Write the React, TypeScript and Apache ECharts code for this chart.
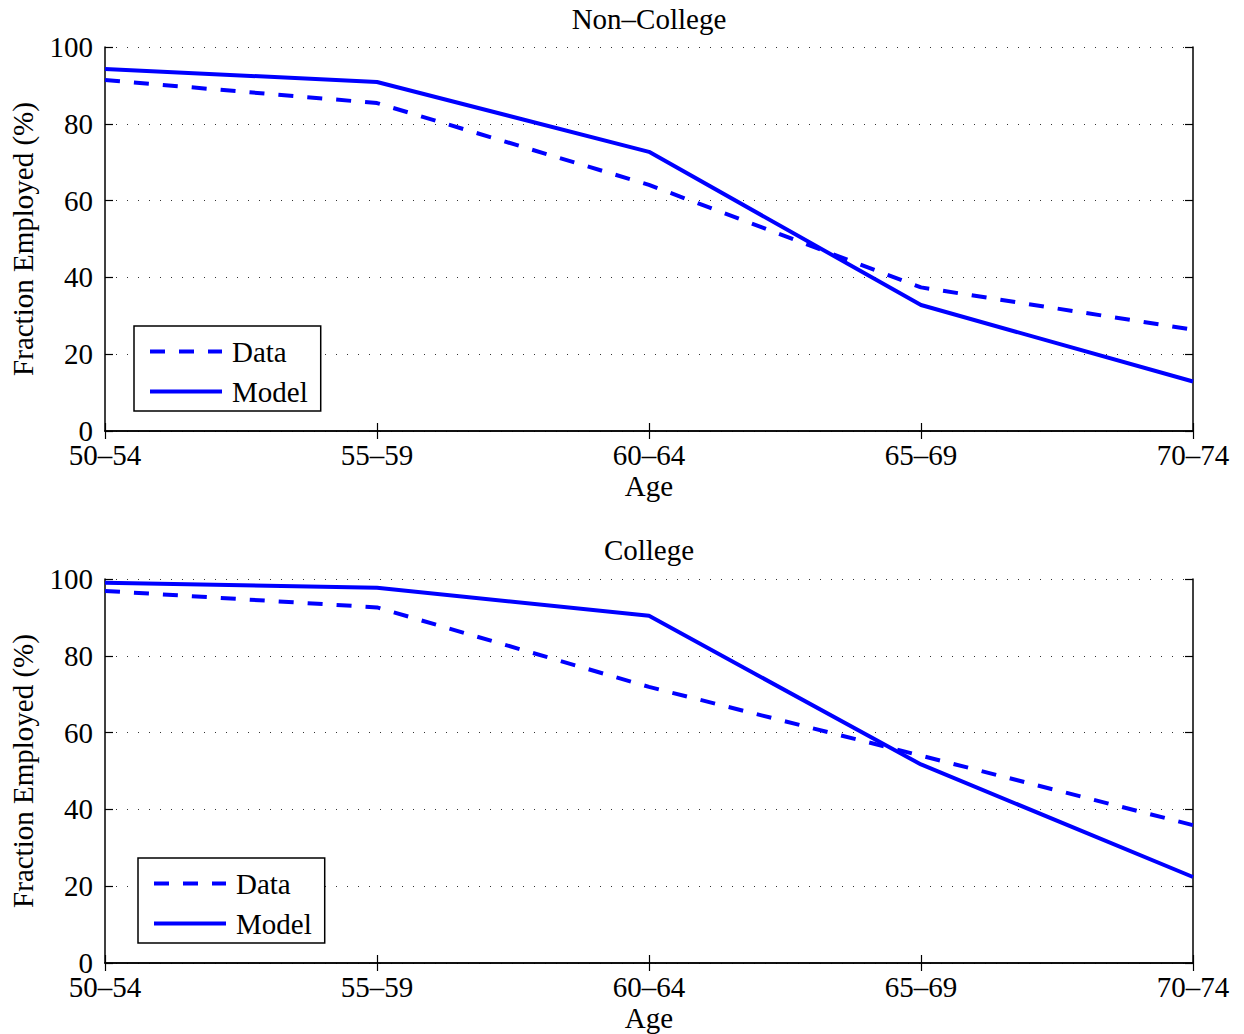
import React, { useEffect, useRef } from "react";
import * as echarts from "echarts";

const categories = ["50–54", "55–59", "60–64", "65–69", "70–74"];
const nonCollegeData = [91.4, 85.4, 64.1, 37.4, 26.4];
const nonCollegeModel = [94.3, 90.9, 72.7, 32.8, 12.9];
const collegeData = [96.9, 92.6, 71.9, 54.0, 35.9];
const collegeModel = [99.0, 97.7, 90.4, 51.7, 22.4];
const yTicks = { min: 0, max: 100, interval: 20 };

const FONT = "Liberation Serif";
const FS = 29;
const BLUE = "#0000ff";

export default function App() {
  const ref = useRef<HTMLDivElement>(null);
  useEffect(() => {
    document.body.style.margin = "0";
    const chart = echarts.init(ref.current!, null, { renderer: "svg" });
    const grids = [
      { left: 105, top: 47, width: 1088, height: 384 },
      { left: 105, top: 579, width: 1088, height: 384 },
    ];
    const titles = ["Non–College", "College"];
    const titleTops = [4, 535];
    const seriesSets = [
      [nonCollegeData, nonCollegeModel],
      [collegeData, collegeModel],
    ];
    const legendPos = [
      { left: 134, top: 326 },
      { left: 138, top: 858 },
    ];
    const xAxis: any[] = [];
    const yAxis: any[] = [];
    const series: any[] = [];
    const title: any[] = [];
    const legend: any[] = [];
    grids.forEach((g, i) => {
      title.push({
        text: titles[i],
        left: g.left + g.width / 2,
        top: titleTops[i],
        textAlign: "center",
        padding: 0,
        textStyle: { fontFamily: FONT, fontSize: FS, fontWeight: "normal", color: "#000", lineHeight: 29 },
      });
      xAxis.push({
        type: "category",
        gridIndex: i,
        data: categories,
        boundaryGap: false,
        position: "bottom",
        name: "Age",
        nameLocation: "middle",
        nameGap: 40,
        nameTextStyle: { fontFamily: FONT, fontSize: FS, color: "#000", lineHeight: 29 },
        axisLine: { lineStyle: { color: "#000", width: 1.5 } },
        axisTick: { inside: true, length: 8, lineStyle: { color: "#000", width: 1.2 } },
        axisLabel: { fontFamily: FONT, fontSize: FS, color: "#000", margin: 15, lineHeight: 18 },
        splitLine: { show: false },
      });
      xAxis.push({
        type: "category",
        gridIndex: i,
        data: categories,
        boundaryGap: false,
        position: "top",
        axisLine: { lineStyle: { color: "#000", width: 1.5 } },
        axisTick: { inside: true, length: 8, lineStyle: { color: "#000", width: 1.2 } },
        axisLabel: { show: false },
        splitLine: { show: false },
      });
      yAxis.push({
        type: "value",
        gridIndex: i,
        position: "left",
        ...yTicks,
        name: "Fraction Employed (%)",
        nameLocation: "middle",
        nameGap: 68,
        nameTextStyle: { fontFamily: FONT, fontSize: FS, color: "#000", lineHeight: 29 },
        axisLine: { show: true, lineStyle: { color: "#000", width: 1.5 } },
        axisTick: { show: true, inside: true, length: 8, lineStyle: { color: "#000", width: 1.2 } },
        axisLabel: { fontFamily: FONT, fontSize: FS, color: "#000", margin: 12, lineHeight: 18 },
        splitLine: { show: true, lineStyle: { color: "#333", width: 1, type: [1, 10] } },
      });
      yAxis.push({
        type: "value",
        gridIndex: i,
        position: "right",
        ...yTicks,
        axisLine: { show: true, lineStyle: { color: "#000", width: 1.5 } },
        axisTick: { show: true, inside: true, length: 8, lineStyle: { color: "#000", width: 1.2 } },
        axisLabel: { show: false },
        splitLine: { show: false },
      });
      const [d, m] = seriesSets[i];
      series.push({
        name: "Data",
        type: "line",
        xAxisIndex: i * 2,
        yAxisIndex: i * 2,
        data: d,
        symbol: "none",
        lineStyle: { color: BLUE, width: 4, type: [15, 14], cap: "butt" },
        itemStyle: { color: BLUE },
      });
      series.push({
        name: "Model",
        type: "line",
        xAxisIndex: i * 2,
        yAxisIndex: i * 2,
        data: m,
        symbol: "none",
        lineStyle: { color: BLUE, width: 4 },
        itemStyle: { color: BLUE },
      });
      legend.push({
        orient: "vertical",
        left: legendPos[i].left,
        top: legendPos[i].top,
        data: ["Data", "Model"],
        backgroundColor: "#fff",
        borderColor: "#000",
        borderWidth: 1.5,
        borderRadius: 0,
        padding: [11, 13, 5, 14],
        itemGap: 11,
        itemWidth: 72,
        itemHeight: 26,
        selectedMode: false,
        itemStyle: { opacity: 0 },
        lineStyle: { width: 4 },
        textStyle: {
          fontFamily: FONT,
          fontSize: FS,
          color: "#000",
          padding: [0, 0, 0, 5],
        },
      });
    });
    chart.setOption({
      animation: false,
      backgroundColor: "#fff",
      title,
      legend,
      grid: grids.map((g) => ({ ...g, show: false })),
      xAxis,
      yAxis,
      series,
    });
    return () => chart.dispose();
  }, []);
  return <div ref={ref} style={{ width: 1244, height: 1034 }} />;
}
